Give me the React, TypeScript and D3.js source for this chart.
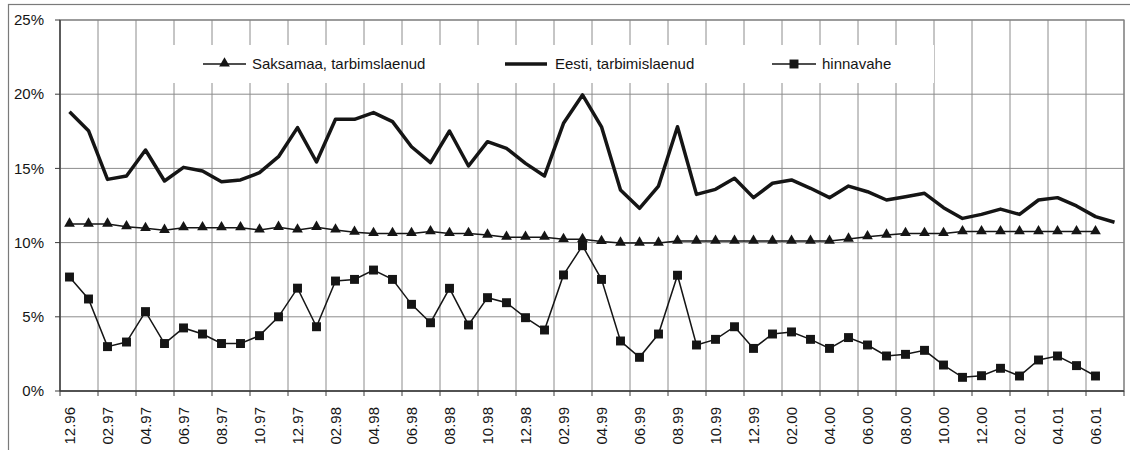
import React from "react";
import * as d3 from "d3";

// Monthly observations, 12.96 … 07.01
const months = [
  "12.96", "01.97", "02.97", "03.97", "04.97", "05.97", "06.97", "07.97", "08.97", "09.97", "10.97", "11.97",
  "12.97", "01.98", "02.98", "03.98", "04.98", "05.98", "06.98", "07.98", "08.98", "09.98", "10.98", "11.98",
  "12.98", "01.99", "02.99", "03.99", "04.99", "05.99", "06.99", "07.99", "08.99", "09.99", "10.99", "11.99",
  "12.99", "01.00", "02.00", "03.00", "04.00", "05.00", "06.00", "07.00", "08.00", "09.00", "10.00", "11.00",
  "12.00", "01.01", "02.01", "03.01", "04.01", "05.01", "06.01", "07.01",
];

// Saksamaa, tarbimslaenud (%)
const saksamaa = [
  11.25, 11.25, 11.25, 11.07, 10.96, 10.83, 11.0, 11.0, 11.0, 11.0, 10.85, 11.03,
  10.85, 11.03, 10.85, 10.7, 10.62, 10.62, 10.62, 10.74, 10.62, 10.62, 10.51, 10.36,
  10.36, 10.36, 10.22, 10.22, 10.08, 9.97, 9.97, 9.97, 10.1, 10.1, 10.1, 10.1,
  10.1, 10.1, 10.1, 10.1, 10.1, 10.24, 10.4, 10.51, 10.62, 10.62, 10.62, 10.74,
  10.74, 10.74, 10.74, 10.74, 10.74, 10.74, 10.74,
];

// Eesti, tarbimislaenud (%)
const eesti = [
  18.82, 17.54, 14.26, 14.49, 16.24, 14.15, 15.07, 14.82, 14.1, 14.22, 14.71, 15.79,
  17.75, 15.43, 18.31, 18.31, 18.76, 18.15, 16.46, 15.39, 17.52, 15.16, 16.8, 16.35,
  15.34, 14.49, 18.04, 19.95, 17.8, 13.54, 12.31, 13.81, 17.81, 13.25, 13.59, 14.33,
  13.03, 14.0, 14.22, 13.66, 13.03, 13.81, 13.43, 12.87, 13.09, 13.32, 12.35, 11.63,
  11.9, 12.26, 11.9, 12.87, 13.03, 12.47, 11.75, 11.37,
];

// hinnavahe (%)
const hinnavahe = [
  7.68, 6.2, 2.99, 3.3, 5.35, 3.2, 4.25, 3.84, 3.2, 3.2, 3.73, 5.0,
  6.93, 4.33, 7.41, 7.52, 8.15, 7.52, 5.84, 4.6, 6.92, 4.45, 6.29, 5.95,
  4.94, 4.11, 7.82, 9.79, 7.52, 3.37, 2.27, 3.84, 7.8, 3.1, 3.48, 4.33,
  2.87, 3.84, 3.98, 3.48, 2.87, 3.6, 3.1, 2.36, 2.47, 2.74, 1.75, 0.92,
  1.03, 1.53, 1.01, 2.09, 2.36, 1.71, 1.01,
];

const yTicks = [0, 5, 10, 15, 20, 25];

const W = 1130;
const H = 450;
const plot = { left: 60, right: 1124, top: 20, bottom: 391 };
const FONT = "'Liberation Sans', Arial, sans-serif";
const INK = "#151515";
const GRID = "#8c8c8c";

export default function App() {
  const x = d3
    .scaleBand<string>()
    .domain(months)
    .range([plot.left, plot.right])
    .padding(0);
  const cx = (m: string) => (x(m) as number) + x.bandwidth() / 2;
  const y = d3.scaleLinear().domain([0, 25]).range([plot.bottom, plot.top]);

  const line = d3
    .line<number>()
    .x((_, i) => cx(months[i]))
    .y((v) => y(v));

  const triangle = d3.symbol().type(d3.symbolTriangle).size(50)() as string;
  const square = d3.symbol().type(d3.symbolSquare).size(80)() as string;

  // vertical gridlines at every second category boundary
  const vLines = months
    .map((m, i) => (i % 2 === 0 ? (x(m) as number) : null))
    .filter((v): v is number => v !== null)
    .concat([plot.right]);

  const legendY = 64;

  return (
    <svg
      width={W}
      height={H}
      style={{ position: "absolute", left: 0, top: 0, background: "#fff" }}
      fontFamily={FONT}
    >
      {/* outer chart frame */}
      <rect x={8.5} y={4.5} width={W + 20} height={H + 20} fill="#fff" stroke="#7a7a7a" strokeWidth={1.2} />

      {/* horizontal gridlines */}
      {yTicks.map((t) => (
        <line key={"h" + t} x1={plot.left} x2={plot.right} y1={y(t)} y2={y(t)} stroke={GRID} strokeWidth={1} />
      ))}
      {/* vertical gridlines */}
      {vLines.map((vx, i) => (
        <line key={"v" + i} x1={vx} x2={vx} y1={plot.top} y2={plot.bottom} stroke={GRID} strokeWidth={1} />
      ))}

      {/* plot frame */}
      <rect
        x={plot.left}
        y={plot.top}
        width={plot.right - plot.left}
        height={plot.bottom - plot.top}
        fill="none"
        stroke="#808080"
        strokeWidth={1.2}
      />
      {/* axes */}
      <line x1={plot.left} x2={plot.left} y1={plot.top} y2={plot.bottom} stroke="#3a3a3a" strokeWidth={1.3} />
      <line x1={plot.left} x2={plot.right} y1={plot.bottom} y2={plot.bottom} stroke="#3a3a3a" strokeWidth={1.3} />

      {/* y ticks and labels */}
      {yTicks.map((t) => (
        <g key={"yt" + t}>
          <line x1={plot.left - 5} x2={plot.left} y1={y(t)} y2={y(t)} stroke="#3a3a3a" strokeWidth={1} />
          <text x={44} y={y(t)} dy="0.35em" textAnchor="end" fontSize={15} fill={INK}>
            {t}%
          </text>
        </g>
      ))}

      {/* x ticks */}
      {vLines.map((vx, i) => (
        <line key={"xt" + i} x1={vx} x2={vx} y1={plot.bottom} y2={plot.bottom + 5} stroke="#3a3a3a" strokeWidth={1} />
      ))}
      {/* x labels, every second month */}
      {months.map((m, i) =>
        i % 2 === 0 && i < months.length - 1 ? (
          <text
            key={"xl" + m}
            transform={`translate(${cx(m)},${plot.bottom + 16}) rotate(-90)`}
            textAnchor="end"
            dy="0.35em"
            fontSize={15}
            fill={INK}
          >
            {m}
          </text>
        ) : null
      )}

      {/* legend */}
      <rect x={170} y={45} width={764} height={38} fill="#fff" />
      <line x1={203} x2={246} y1={legendY} y2={legendY} stroke={INK} strokeWidth={1.5} />
      <path d={triangle} transform={`translate(224.5,${legendY - 0.5})`} fill={INK} />
      <text x={252} y={legendY} dy="0.35em" fontSize={15} fill={INK}>
        Saksamaa, tarbimslaenud
      </text>
      <line x1={505} x2={547} y1={legendY} y2={legendY} stroke={INK} strokeWidth={3.5} />
      <text x={555} y={legendY} dy="0.35em" fontSize={15} fill={INK}>
        Eesti, tarbimislaenud
      </text>
      <line x1={772} x2={816} y1={legendY} y2={legendY} stroke={INK} strokeWidth={1.5} />
      <path d={square} transform={`translate(794,${legendY})`} fill={INK} />
      <text x={822} y={legendY} dy="0.35em" fontSize={15} fill={INK}>
        hinnavahe
      </text>

      {/* series */}
      <path d={line(eesti) as string} fill="none" stroke={INK} strokeWidth={3.5} strokeLinejoin="round" />
      <path d={line(saksamaa) as string} fill="none" stroke={INK} strokeWidth={1.5} />
      {saksamaa.map((v, i) => (
        <path key={"tri" + i} d={triangle} transform={`translate(${cx(months[i])},${y(v) - 0.5})`} fill={INK} />
      ))}
      <path d={line(hinnavahe) as string} fill="none" stroke={INK} strokeWidth={1.5} />
      {hinnavahe.map((v, i) => (
        <path key={"sq" + i} d={square} transform={`translate(${cx(months[i])},${y(v)})`} fill={INK} />
      ))}
    </svg>
  );
}
